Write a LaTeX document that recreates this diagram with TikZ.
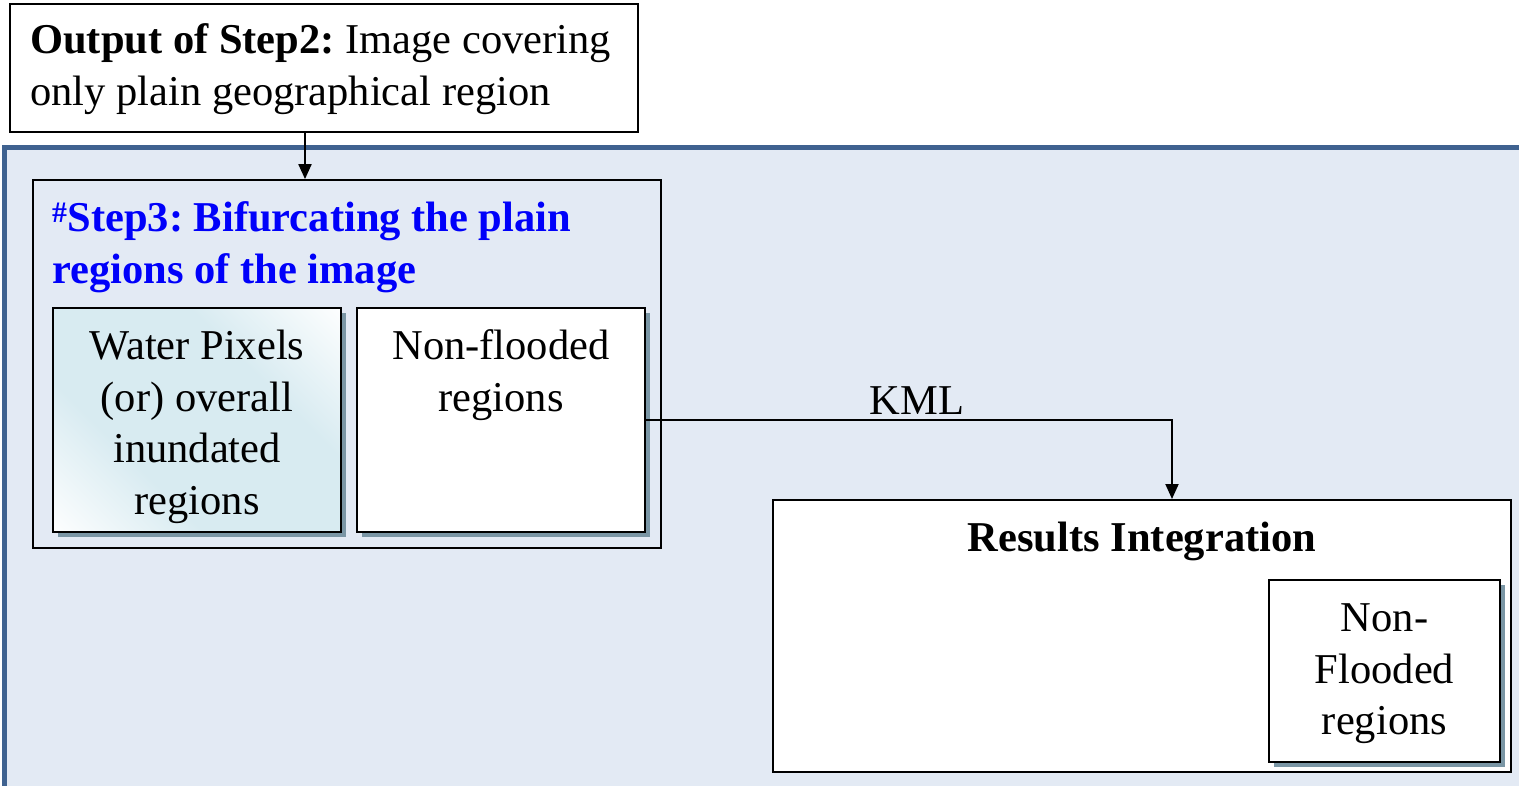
\documentclass[tikz,border=0pt]{standalone}
\usepackage{fontspec}
\setmainfont{Liberation Serif}
\usetikzlibrary{arrows.meta,shadows}
\frenchspacing

\definecolor{panelfill}{HTML}{E3EAF4}
\definecolor{panelline}{HTML}{3F6290}
\definecolor{shadowc}{HTML}{7A96A5}
\definecolor{waterc}{HTML}{D8EBF1}
\definecolor{titleblue}{HTML}{0000FA}

% white corners, light blue band across the middle
\pgfdeclareverticalshading{waterband}{100bp}{
  color(0bp)=(white); color(25bp)=(white); color(40bp)=(waterc);
  color(60bp)=(waterc); color(75bp)=(white); color(100bp)=(white)}

\begin{document}
\begin{tikzpicture}[x=1pt,y=-1pt,
  txt/.style={font=\fontsize{42.5}{51.5}\selectfont, inner sep=0pt, align=center},
  box/.style={draw=black, line width=2pt, inner sep=0pt},
  shbox/.style={box, line width=2.5pt, fill=white,
    drop shadow={shadow xshift=5pt, shadow yshift=-5pt, fill=shadowc, opacity=1}},
  diagband/.style={path picture={
    \shade[shading=waterband,
      transform canvas={rotate around={-45:(path picture bounding box.center)}}]
      ([shift={(-185pt,-185pt)}]path picture bounding box.center) rectangle
      ([shift={(185pt,185pt)}]path picture bounding box.center);}},
  link/.style={line width=2pt, -{Triangle[length=15pt,width=13pt]}}]

\useasboundingbox (0,0) rectangle (1519,786);
\clip (0,0) rectangle (1519,786);

% input box from the previous step
\node[box, fill=white, minimum width=628pt, minimum height=128pt] (out2) at (324,68) {};
\node[txt, align=left, anchor=west] (out2txt) at (30,69)
  {\textbf{Output of Step2:} Image covering\\only plain geographical region};

% large background panel
\draw[panelline, fill=panelfill, line width=5pt] (4.5,148) rectangle (1545,789);

% step 3 container
\node[box, line width=1.8pt, fill=panelfill, minimum width=628pt, minimum height=368pt] (step3) at (347,364) {};
\node[txt, align=left, anchor=west, text=titleblue, font=\fontsize{42.5}{51.5}\selectfont\bfseries] (step3title) at (52,247)
  {\textsuperscript{\#}Step3: Bifurcating the plain\\regions of the image};

% the two classes of plain regions
\node[shbox, diagband, minimum width=288pt, minimum height=224pt] (water) at (197,420) {};
\node[txt] (watertxt) at (197,427) {Water Pixels\\(or) overall\\inundated\\regions};

\node[shbox, minimum width=288pt, minimum height=224pt] (nonflood) at (501,420) {};
\node[txt] (nonfloodtxt) at (501,375) {Non-flooded\\regions};

% integration of results
\node[box, fill=white, minimum width=738pt, minimum height=272pt] (results) at (1142,636) {};
\node[txt, font=\fontsize{42.5}{51.5}\selectfont\bfseries, anchor=base] (resultstxt) at (1142,551) {Results Integration};

\node[shbox, minimum width=231pt, minimum height=182pt] (nonflood2) at (1384.5,671) {};
\node[txt] (nonflood2txt) at (1384.5,674) {Non-\\Flooded\\regions};

% connectors
\coordinate (ax) at (305,0);
\draw[link] (out2.south -| ax) -- (step3.north -| ax);

\coordinate (kmlturn) at (1172,420);
\draw[link] (nonflood.east) -- (kmlturn) -- (results.north -| kmlturn);
\node[txt, anchor=base] (kml) at (917,414) {KML};

\end{tikzpicture}
\end{document}
